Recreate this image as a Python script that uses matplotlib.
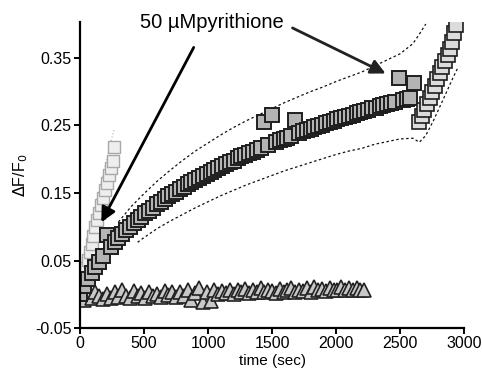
import numpy as np
import matplotlib
matplotlib.use("Agg")
import matplotlib.pyplot as plt

plt.rcParams['font.family'] = ['Liberation Sans', 'DejaVu Sans']

# main pyrithione trace (squares), sampled every 30 s
t_main = np.arange(0, 2640, 30)
v_main = [0.000, 0.012, 0.022, 0.031, 0.040, 0.048, 0.056, 0.088, 0.070, 0.077,
          0.083, 0.089, 0.095, 0.100, 0.105, 0.110, 0.115, 0.120, 0.124, 0.128,
          0.133, 0.137, 0.141, 0.145, 0.149, 0.152, 0.156, 0.159, 0.163, 0.166,
          0.169, 0.172, 0.175, 0.178, 0.181, 0.184, 0.187, 0.190, 0.193, 0.196,
          0.198, 0.201, 0.204, 0.206, 0.209, 0.211, 0.214, 0.216, 0.255, 0.221,
          0.265, 0.226, 0.228, 0.230, 0.232, 0.234, 0.258, 0.239, 0.241, 0.243,
          0.245, 0.247, 0.249, 0.251, 0.253, 0.255, 0.257, 0.259, 0.261, 0.263,
          0.264, 0.266, 0.268, 0.270, 0.271, 0.273, 0.275, 0.276, 0.278, 0.280,
          0.281, 0.283, 0.284, 0.320, 0.287, 0.289, 0.290, 0.312]
# steep rise at the end
t_rise = [2650, 2670, 2690, 2710, 2730, 2750, 2770, 2790, 2810, 2830,
          2850, 2870, 2890, 2905, 2920, 2935]
v_rise = [0.255, 0.264, 0.273, 0.282, 0.291, 0.300, 0.309, 0.318, 0.327, 0.336,
          0.345, 0.354, 0.363, 0.374, 0.386, 0.398]

# error band (dashed) around main trace
t_up = [300, 400, 500, 600, 700, 800, 900, 1000, 1100, 1200, 1300, 1400, 1500,
        1600, 1700, 1800, 1900, 2000, 2100, 2200, 2300, 2400, 2500, 2600, 2650, 2700]
v_up = [0.107, 0.130, 0.149, 0.167, 0.183, 0.198, 0.212, 0.224, 0.236, 0.247,
        0.257, 0.266, 0.275, 0.284, 0.292, 0.300, 0.307, 0.315, 0.322, 0.329,
        0.338, 0.347, 0.356, 0.371, 0.385, 0.400]
t_lo = [450, 500, 600, 700, 800, 900, 1000, 1100, 1200, 1300, 1400, 1500, 1600,
        1700, 1800, 1900, 2000, 2100, 2200, 2300, 2400, 2500, 2600, 2650, 2700,
        2760, 2840, 2914, 2950]
v_lo = [0.077, 0.084, 0.097, 0.108, 0.118, 0.128, 0.137, 0.146, 0.154, 0.162,
        0.169, 0.176, 0.183, 0.189, 0.195, 0.201, 0.207, 0.212, 0.216, 0.222,
        0.226, 0.230, 0.231, 0.225, 0.235, 0.257, 0.290, 0.321, 0.335]

# light grey fast trace
t_fast = [0, 15, 30, 45, 60, 75, 90, 105, 120, 135, 150, 165, 180, 195, 210,
          225, 240, 255, 268]
v_fast = [0.000, 0.013, 0.026, 0.039, 0.051, 0.063, 0.075, 0.087, 0.099, 0.110,
          0.121, 0.132, 0.143, 0.154, 0.165, 0.176, 0.187, 0.198, 0.218]
v_fast_up = [0.020, 0.035, 0.050, 0.064, 0.077, 0.090, 0.103, 0.116, 0.129, 0.141,
             0.153, 0.165, 0.177, 0.189, 0.201, 0.213, 0.225, 0.236, 0.245]

# control trace (triangles)
t_ctrl = np.arange(0, 2250, 30)
v_ctrl = [-0.004, -0.008, 0.002, -0.006, 0.004, -0.003, -0.007, 0.001, -0.005, 0.003,
          -0.004, 0.006, -0.002, -0.006, 0.005, -0.003, 0.002, -0.005, 0.004, -0.002,
          0.001, -0.004, 0.005, -0.001, 0.003, -0.004, 0.004, -0.002, 0.006, -0.008,
          0.002, 0.009, -0.012, 0.004, -0.010, 0.006, 0.000, 0.005, 0.002, 0.007,
          0.001, 0.006, 0.003, 0.008, 0.002, 0.006, 0.004, 0.009, 0.003, 0.007,
          0.005, 0.002, 0.008, 0.004, 0.006, 0.010, 0.003, 0.007, 0.005, 0.009,
          0.004, 0.011, 0.006, 0.008, 0.005, 0.010, 0.007, 0.006, 0.011, 0.007,
          0.009, 0.006, 0.010, 0.007, 0.006]

fig = plt.figure(figsize=(4.82, 3.86), dpi=100)
ax = fig.add_axes([0.166, 0.150, 0.797, 0.793])

ax.plot(t_ctrl, v_ctrl, ls='none', marker='^', ms=10, mfc='#c8c8c8', mec='#222222', mew=1.2)

ax.plot(t_fast, v_fast_up, ls=(0, (1, 2)), color='#aaaaaa', lw=0.8)
ax.plot(t_fast, v_fast, ls='none', marker='s', ms=9, mfc='#eeeeee', mec='#a8a8a8', mew=1.0)

ax.plot(t_up, v_up, ls=(0, (2, 2)), color='#111111', lw=0.9)
ax.plot(t_lo, v_lo, ls=(0, (2, 2)), color='#111111', lw=0.9)
ax.plot(t_main, v_main, ls='none', marker='s', ms=10, mfc='#b4b4b4', mec='#1e1e1e', mew=1.4)
ax.plot(t_rise, v_rise, ls='none', marker='s', ms=10, mfc='#dcdcdc', mec='#1e1e1e', mew=1.2)

ax.set_xlim(0, 3000)
ax.set_ylim(-0.05, 0.403)
ax.set_xticks([0, 500, 1000, 1500, 2000, 2500, 3000])
ax.set_yticks([-0.05, 0.05, 0.15, 0.25, 0.35])
ax.set_yticklabels(['-0.05', '0.05', '0.15', '0.25', '0.35'])
for s in ['top', 'right']:
    ax.spines[s].set_visible(False)
for s in ['left', 'bottom']:
    ax.spines[s].set_linewidth(1.6)
ax.tick_params(length=4, width=1.4, labelsize=11.5, pad=2)

ax.set_xlabel('time (sec)', fontsize=11, labelpad=2)
ax.set_ylabel(r'$\Delta$F/F$_0$', fontsize=11.5, labelpad=4)

ax.text(1031, 0.402, '50 \u00b5Mpyrithione', fontsize=14.5, ha='center', va='center',
        clip_on=False)
ax.annotate('', xy=(156, 0.103), xytext=(898, 0.369), annotation_clip=False,
            arrowprops=dict(arrowstyle='-|>', color='black', lw=2, mutation_scale=22))
ax.annotate('', xy=(2406, 0.325), xytext=(1640, 0.396), annotation_clip=False,
            arrowprops=dict(arrowstyle='-|>', color='#222222', lw=2, mutation_scale=22))

fig.savefig('out.png', dpi=100)
